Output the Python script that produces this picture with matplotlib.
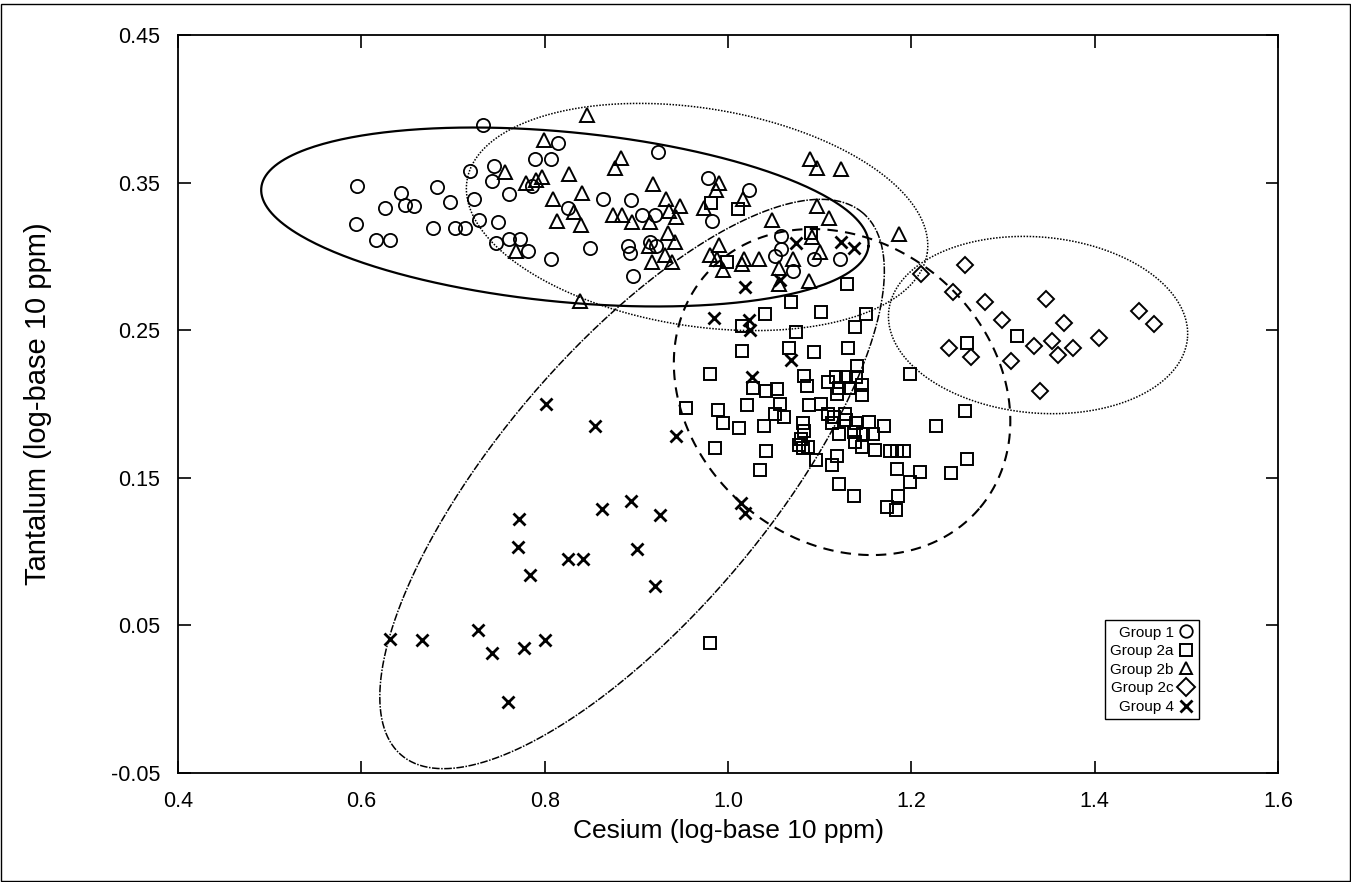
import numpy as np
import matplotlib
matplotlib.use('Agg')
import matplotlib.pyplot as plt
from matplotlib.patches import Rectangle

plt.rcParams['font.family'] = ['Liberation Sans', 'DejaVu Sans']

## data (log-base 10 ppm)
g1_x = [0.733, 0.814, 0.789, 0.807, 0.745, 0.719, 0.743, 0.595, 0.786, 0.643,
        0.683, 0.761, 0.864, 0.894, 0.697, 0.723, 0.626, 0.648, 0.657, 0.825,
        0.906, 0.594, 0.678, 0.702, 0.713, 0.728, 0.749, 0.616, 0.631, 0.761,
        0.773, 0.747, 0.782, 0.849, 0.891, 0.893, 0.807, 0.896, 0.924, 0.978,
        1.023, 0.920, 0.983, 0.915, 0.921, 1.058, 1.058, 1.051, 1.071, 1.094,
        1.122]
g1_y = [0.389, 0.377, 0.366, 0.366, 0.361, 0.358, 0.351, 0.348, 0.348, 0.343,
        0.347, 0.342, 0.339, 0.338, 0.337, 0.339, 0.333, 0.335, 0.334, 0.333,
        0.328, 0.322, 0.319, 0.319, 0.319, 0.325, 0.323, 0.311, 0.311, 0.312,
        0.312, 0.309, 0.304, 0.306, 0.307, 0.302, 0.298, 0.287, 0.371, 0.353,
        0.345, 0.328, 0.324, 0.310, 0.307, 0.314, 0.305, 0.300, 0.290, 0.298,
        0.298]

g2a_x = [1.130, 1.069, 1.040, 1.101, 1.151, 1.138, 1.015, 1.074, 1.015, 1.067,
         1.094, 1.131, 0.980, 1.083, 1.141, 1.198, 1.109, 1.118, 1.129, 1.140,
         1.146, 1.121, 1.132, 1.146, 1.119, 1.027, 1.041, 1.053, 1.086, 1.057,
         1.021, 1.088, 1.101, 0.954, 0.989, 0.994, 1.051, 1.061, 1.012, 1.039,
         1.082, 1.083, 1.109, 1.116, 1.128, 1.113, 1.140, 1.154, 1.170, 1.121,
         1.137, 1.147, 1.158, 1.139, 1.146, 1.160, 1.077, 1.082, 1.087, 1.080,
         0.986, 1.041, 1.177, 1.184, 1.192, 1.096, 1.119, 1.113, 1.035, 1.184,
         1.209, 1.199, 1.121, 1.137, 1.185, 1.173, 1.183, 1.227, 1.259, 1.261,
         1.243, 1.261, 1.315, 0.980, 0.981, 1.011, 0.999, 1.091, 1.129]
g2a_y = [0.281, 0.269, 0.261, 0.262, 0.261, 0.252, 0.253, 0.249, 0.236, 0.238,
         0.235, 0.238, 0.220, 0.219, 0.226, 0.220, 0.215, 0.218, 0.218, 0.218,
         0.213, 0.211, 0.211, 0.206, 0.207, 0.211, 0.209, 0.210, 0.212, 0.200,
         0.199, 0.199, 0.200, 0.197, 0.196, 0.187, 0.193, 0.191, 0.184, 0.185,
         0.187, 0.182, 0.193, 0.191, 0.193, 0.187, 0.187, 0.188, 0.185, 0.180,
         0.181, 0.180, 0.180, 0.174, 0.171, 0.169, 0.172, 0.170, 0.171, 0.176,
         0.170, 0.168, 0.168, 0.168, 0.168, 0.162, 0.165, 0.159, 0.155, 0.156,
         0.154, 0.147, 0.146, 0.138, 0.138, 0.130, 0.128, 0.185, 0.195, 0.163,
         0.153, 0.241, 0.246, 0.038, 0.336, 0.332, 0.296, 0.316, 0.189]

g2b_x = [0.846, 0.799, 0.883, 0.877, 0.757, 0.827, 0.797, 0.791, 0.780, 0.809,
         0.841, 0.832, 0.813, 0.840, 0.874, 0.884, 0.895, 0.769, 0.839, 0.918,
         0.932, 0.948, 0.936, 0.943, 0.915, 0.990, 0.987, 0.974, 1.016, 0.935,
         0.942, 0.914, 0.931, 0.939, 0.917, 1.089, 1.097, 1.123, 1.097, 1.110,
         1.187, 1.092, 1.100, 1.048, 1.071, 1.056, 1.056, 1.088, 0.990, 0.980,
         0.988, 0.995, 1.017, 1.034, 1.015]
g2b_y = [0.396, 0.379, 0.367, 0.360, 0.357, 0.356, 0.354, 0.352, 0.350, 0.339,
         0.343, 0.330, 0.324, 0.321, 0.328, 0.328, 0.323, 0.304, 0.270, 0.349,
         0.339, 0.334, 0.331, 0.327, 0.323, 0.350, 0.345, 0.333, 0.339, 0.316,
         0.310, 0.307, 0.301, 0.296, 0.296, 0.366, 0.360, 0.359, 0.334, 0.326,
         0.315, 0.313, 0.303, 0.325, 0.298, 0.292, 0.281, 0.283, 0.308, 0.301,
         0.298, 0.291, 0.298, 0.298, 0.295]

g2c_x = [1.259, 1.211, 1.245, 1.280, 1.347, 1.299, 1.367, 1.448, 1.465, 1.241,
         1.265, 1.334, 1.353, 1.376, 1.360, 1.405, 1.309, 1.340]
g2c_y = [0.294, 0.288, 0.276, 0.269, 0.271, 0.257, 0.255, 0.263, 0.254, 0.238,
         0.232, 0.239, 0.243, 0.238, 0.233, 0.245, 0.229, 0.209]

g4_x = [0.801, 0.855, 0.943, 0.772, 0.771, 0.784, 0.825, 0.842, 0.863, 0.894,
        0.926, 0.901, 0.920, 0.631, 0.666, 0.727, 0.743, 0.777, 0.800, 0.760,
        1.019, 0.985, 1.023, 1.024, 1.069, 1.026, 1.074, 1.123, 1.137, 1.057,
        1.014, 1.019]
g4_y = [0.200, 0.185, 0.178, 0.122, 0.103, 0.084, 0.095, 0.095, 0.129, 0.134,
        0.125, 0.102, 0.077, 0.041, 0.040, 0.047, 0.031, 0.035, 0.040, -0.002,
        0.279, 0.258, 0.257, 0.250, 0.230, 0.218, 0.309, 0.310, 0.306, 0.284,
        0.133, 0.126]

## group ellipses: centre and two semi-axis vectors, in data units
ell_centre = [(0.822, 0.3267), (0.9662, 0.3267), (0.8953, 0.1458), (1.1244, 0.2081), (1.3382, 0.2535)]
ell_major = [(0.3312, -0.0198), (0.2510, -0.0247), (0.2517, 0.1837), (0.1504, -0.0784), (0.1630, -0.0089)]
ell_minor = [(0.0089, 0.0573), (0.0186, 0.0729), (-0.1113, 0.0588), (0.1052, 0.0778), (0.0084, 0.0594)]
ell_style = ['-', (0, (1, 1)), (0, (5, 1, 1, 1)), (0, (5, 3.5)), (0, (1, 1))]
ell_width = [1.6, 1.1, 1.1, 1.5, 1.1]

fig = plt.figure(figsize=(13.51, 8.82), dpi=100)
ax = fig.add_axes([0.1318, 0.1236, 0.8142, 0.8367])

ax.plot(g1_x, g1_y, 'o', mfc='none', mec='black', ms=9.5, mew=1.3, label='Group 1')
ax.plot(g2a_x, g2a_y, 's', mfc='none', mec='black', ms=9, mew=1.4, label='Group 2a')
ax.plot(g2b_x, g2b_y, '^', mfc='none', mec='black', ms=10.5, mew=1.4, label='Group 2b')
ax.plot(g2c_x, g2c_y, 'D', mfc='none', mec='black', ms=8, mew=1.4, label='Group 2c')
ax.plot(g4_x, g4_y, 'x', color='black', ms=8, mew=2.0, label='Group 4')

t = np.linspace(0, 2 * np.pi, 400)
for c, u, v, ls, lw in zip(ell_centre, ell_major, ell_minor, ell_style, ell_width):
    ex = c[0] + u[0] * np.cos(t) + v[0] * np.sin(t)
    ey = c[1] + u[1] * np.cos(t) + v[1] * np.sin(t)
    ax.plot(ex, ey, color='black', linestyle=ls, linewidth=lw)

ax.set_xlim(0.4, 1.6)
ax.set_ylim(-0.05, 0.45)
ax.set_xticks([0.4, 0.6, 0.8, 1.0, 1.2, 1.4, 1.6])
ax.set_xticklabels(['0.4', '0.6', '0.8', '1.0', '1.2', '1.4', '1.6'])
ax.set_yticks([-0.05, 0.05, 0.15, 0.25, 0.35, 0.45])
ax.set_yticklabels(['-0.05', '0.05', '0.15', '0.25', '0.35', '0.45'])
ax.tick_params(direction='in', length=9, width=1.2, top=True, right=True,
               labelsize=15.5, pad=13)
for s in ax.spines.values():
    s.set_linewidth(1.3)

ax.set_xlabel('Cesium (log-base 10 ppm)', fontsize=19)
ax.set_ylabel('Tantalum (log-base 10 ppm)', fontsize=21)
ax.xaxis.set_label_coords(0.5, -0.062)
ax.yaxis.set_label_coords(-0.115, 0.5)

leg = ax.legend(loc='upper right', bbox_to_anchor=(0.928, 0.207), borderaxespad=0,
                markerfirst=False, fancybox=False, edgecolor='black', framealpha=1,
                fontsize=11, handlelength=1.0, handletextpad=0.3, labelspacing=0.3,
                borderpad=0.35, numpoints=1)
leg.get_frame().set_linewidth(1.0)
for h in leg.legend_handles:
    h.set_markersize(9)

fig.patches.append(Rectangle((0.001, 0.001), 0.998, 0.995, transform=fig.transFigure,
                             fill=False, edgecolor='black', linewidth=1.0))

plt.savefig('out.png', dpi=100)
